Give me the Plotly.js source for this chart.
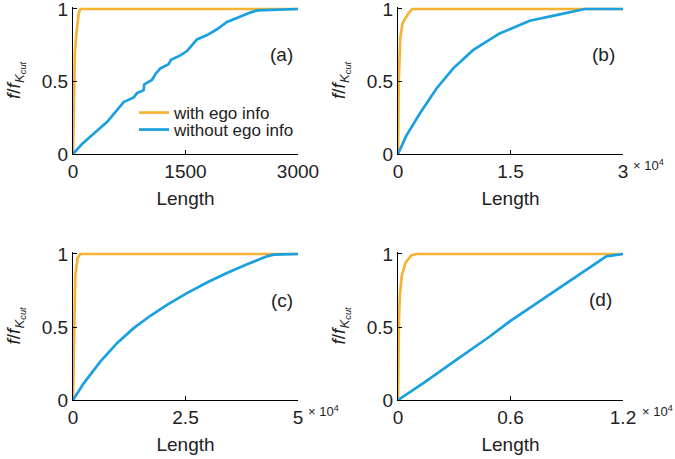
<!DOCTYPE html>
<html>
<head>
<meta charset="utf-8">
<script src="https://cdn.plot.ly/plotly-3.0.1.min.js"></script>
<style>html,body{margin:0;padding:0;background:#fff;}#chart{width:675px;height:459px;}</style>
</head>
<body>
<div id="chart"></div>
<script>
// Panel (a)
var aEgoX = [0, 8, 15, 25, 40, 55, 75, 100, 3000];
var aEgoY = [0, 0.35, 0.55, 0.7, 0.8, 0.9, 0.97, 1, 1];
var aNoX = [0, 120, 320, 453, 676, 809, 853, 942, 951, 1053, 1098, 1164, 1276, 1307, 1431, 1520, 1587, 1653, 1787, 1920, 2053, 2231, 2364, 2453, 3000];
var aNoY = [0, 0.069, 0.16, 0.22, 0.358, 0.39, 0.42, 0.44, 0.48, 0.51, 0.55, 0.59, 0.62, 0.65, 0.68, 0.71, 0.75, 0.79, 0.82, 0.86, 0.91, 0.95, 0.975, 0.99, 1];
// Panel (b)
var bEgoX = [0, 100, 300, 600, 900, 1400, 1900, 30000];
var bEgoY = [0, 0.5, 0.8, 0.9, 0.93, 0.97, 1, 1];
var bNoX = [0, 1110, 2890, 5110, 7330, 10000, 13560, 17560, 21100, 24900, 30000];
var bNoY = [0, 0.127, 0.277, 0.45, 0.589, 0.716, 0.831, 0.919, 0.958, 1, 1];
// Panel (c)
var cEgoX = [0, 200, 500, 1000, 1600, 50000];
var cEgoY = [0, 0.5, 0.85, 0.97, 1, 1];
var cNoX = [0, 2370, 6070, 9780, 13480, 17190, 20890, 25330, 29780, 34200, 38700, 43100, 44600, 50000];
var cNoY = [0, 0.114, 0.263, 0.389, 0.492, 0.577, 0.652, 0.732, 0.805, 0.87, 0.93, 0.984, 0.995, 1];
// Panel (d)
var dEgoX = [0, 20, 50, 100, 200, 400, 700, 1000, 12000];
var dEgoY = [0, 0.3, 0.55, 0.72, 0.85, 0.94, 0.99, 1, 1];
var dNoX = [0, 1333, 3110, 4890, 5960, 7560, 9330, 11110, 12000];
var dNoY = [0, 0.114, 0.275, 0.435, 0.538, 0.675, 0.828, 0.984, 1];

// Tick labels
var aTickVals = [0, 1500, 3000], aTickText = ['0', '1500', '3000'];
var bTickVals = [0, 15000, 30000], bTickText = ['0', '1.5', '3'];
var cTickVals = [0, 25000, 50000], cTickText = ['0', '2.5', '5'];
var dTickVals = [0, 6000, 12000], dTickText = ['0', '0.6', '1.2'];
var yTickVals = [0, 0.5, 1], yTickText = ['0', '0.5', '1'];
var panelLabels = ['(a)', '(b)', '(c)', '(d)'];
var seriesNames = ['with ego info', 'without ego info'];

var orange = '#F6B234', blue = '#1A9FE0';
var font = 'Liberation Sans, Arial, sans-serif';
var fs = 19;

var panels = [
  {ego: [aEgoX, aEgoY], no: [aNoX, aNoY], tv: aTickVals, tt: aTickText, max: 3000, lab: [295, 55], mult: null},
  {ego: [bEgoX, bEgoY], no: [bNoX, bNoY], tv: bTickVals, tt: bTickText, max: 30000, lab: [617, 54], mult: 631},
  {ego: [cEgoX, cEgoY], no: [cNoX, cNoY], tv: cTickVals, tt: cTickText, max: 50000, lab: [295, 300], mult: 306},
  {ego: [dEgoX, dEgoY], no: [dNoX, dNoY], tv: dTickVals, tt: dTickText, max: 12000, lab: [614, 299], mult: 640}
];

var xDom = [[73/675, 298/675], [398/675, 623/675]];
var yDom = [[1-154/459, 1-6.8/459], [1-400/459, 1-251.8/459]];

var traces = [];
var layout = {
  width: 675, height: 459,
  margin: {l: 0, r: 0, t: 0, b: 0},
  paper_bgcolor: '#fff', plot_bgcolor: '#fff',
  font: {family: font, size: fs, color: '#222'},
  showlegend: true,
  legend: {x: 134/675, y: 1 - 113/459, xanchor: 'left', yanchor: 'middle',
           bgcolor: 'rgba(0,0,0,0)', font: {size: 17, color: '#222'}, itemwidth: 30},
  legend2: {x: 134/675, y: 1 - 130/459, xanchor: 'left', yanchor: 'middle',
           bgcolor: 'rgba(0,0,0,0)', font: {size: 17, color: '#222'}, itemwidth: 30},
  annotations: []
};

panels.forEach(function(p, i) {
  var n = i + 1;
  var xa = 'x' + (n === 1 ? '' : n), ya = 'y' + (n === 1 ? '' : n);
  var col = i % 2, row = Math.floor(i / 2);
  traces.push({x: p.ego[0], y: p.ego[1], xaxis: xa, yaxis: ya, mode: 'lines',
    line: {color: orange, width: 2.7}, name: seriesNames[0], showlegend: i === 0, legend: 'legend'});
  traces.push({x: p.no[0], y: p.no[1], xaxis: xa, yaxis: ya, mode: 'lines',
    line: {color: blue, width: 2.7}, name: seriesNames[1], showlegend: i === 0, legend: 'legend2'});
  var xk = 'xaxis' + (n === 1 ? '' : n), yk = 'yaxis' + (n === 1 ? '' : n);
  layout[xk] = {
    domain: xDom[col], range: [0, p.max], anchor: ya,
    tickmode: 'array', tickvals: p.tv, ticktext: p.tt,
    ticks: 'inside', ticklen: 4, tickcolor: '#000',
    showline: true, linecolor: '#000', linewidth: 1, mirror: false,
    showgrid: false, zeroline: false, ticklabeloverflow: 'allow',
    tickfont: {size: fs, color: '#222'},
    title: {text: 'Length', font: {size: fs, color: '#222'}, standoff: 10}
  };
  layout[yk] = {
    domain: yDom[row], range: [0, 1.015], anchor: xa,
    tickmode: 'array', tickvals: yTickVals, ticktext: yTickText,
    ticks: 'inside', ticklen: 4, tickcolor: '#000',
    showline: true, linecolor: '#000', linewidth: 1, mirror: false,
    showgrid: false, zeroline: false, ticklabeloverflow: 'allow',
    tickfont: {size: fs, color: '#222'},
    title: {text: '<i>f</i>/<i>f</i><sub><i>K<sub>cut</sub></i></sub>', font: {size: fs, color: '#222'}, standoff: 16}
  };
  layout.annotations.push({text: panelLabels[i], xref: 'paper', yref: 'paper',
    x: p.lab[0]/675, y: 1 - p.lab[1]/459, xanchor: 'right', yanchor: 'middle',
    showarrow: false, font: {size: fs, color: '#222'}});
  if (p.mult) {
    layout.annotations.push({text: '× 10<sup>4</sup>', xref: 'paper', yref: 'paper',
      x: p.mult/675, y: 1 - (row === 0 ? 155 : 401)/459, xanchor: 'left', yanchor: 'top',
      showarrow: false, font: {size: 13, color: '#222'}});
  }
});

Plotly.newPlot('chart', traces, layout, {displayModeBar: false, staticPlot: true});
</script>
</body>
</html>
